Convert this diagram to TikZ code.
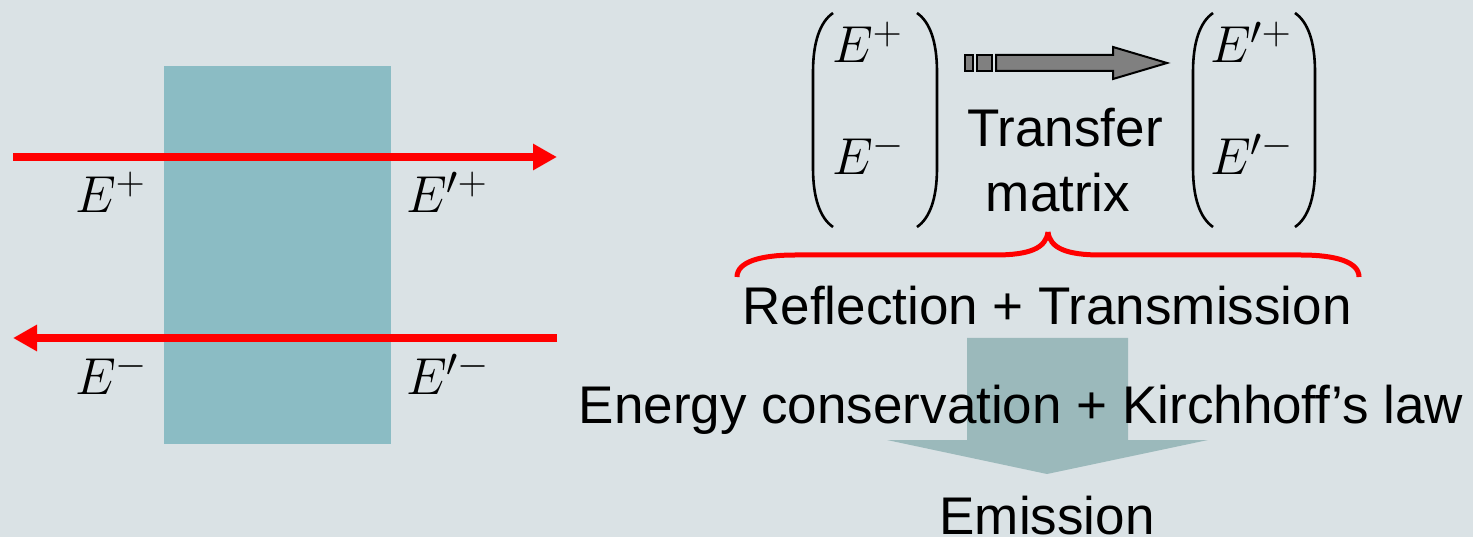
\RequirePackage{fix-cm}
\documentclass[tikz,border=0pt]{standalone}
\usepackage{fontspec}
\newfontfamily\arialf{Liberation Sans}
\usetikzlibrary{arrows.meta}
\DeclareMathSizes{52}{52}{40}{30}
\definecolor{bgc}{HTML}{DAE2E5}
\definecolor{slabc}{HTML}{8BBCC4}
\definecolor{bigarr}{HTML}{9BB9BB}
\definecolor{tgray}{HTML}{808080}
\tikzset{
  redarrow/.style={draw=red, line width=8pt, -{Triangle[length=24pt,width=25pt]}},
  lbl/.style={anchor=base west, inner sep=0pt, font=\fontsize{52}{60}\selectfont},
  stext/.style={anchor=base, inner sep=0pt, font=\arialf\fontsize{53}{60}\selectfont},
  paren/.style={draw=black, line width=2.6pt},
  brace/.style={draw=red, line width=5pt},
  tbox/.style={draw=black, fill=tgray, line width=2pt}
}
\begin{document}
\begin{tikzpicture}[x=1pt,y=-1pt]
\fill[bgc] (0,0) rectangle (1473,537);
\useasboundingbox (0,0) rectangle (1473,537);
% slab
\fill[slabc] (164,66) rectangle (391,444);
% red arrows
\coordinate (t1) at (13,157);
\coordinate (t2) at (557,157);
\coordinate (b1) at (557,338);
\coordinate (b2) at (13,338);
\draw[redarrow] (t1) -- (t2);
\draw[redarrow] (b1) -- (b2);
% labels
\node[lbl] (ep) at (75,213) {$E^+$};
\node[lbl] (epp) at (406,213) {$E'^+$};
\node[lbl] (em) at (75,395) {$E^-$};
\node[lbl] (epm) at (406,395) {$E'^-$};
% left matrix
\draw[paren] (833,13) .. controls (820,22) and (813,42) .. (813,72) -- (813,168) .. controls (813,198) and (820,218) .. (833,227);
\draw[paren] (917,13) .. controls (930,22) and (937,42) .. (937,72) -- (937,168) .. controls (937,198) and (930,218) .. (917,227);
\node[lbl] (m1) at (832,63) {$E^+$};
\node[lbl] (m2) at (832,175) {$E^-$};
% right matrix
\draw[paren] (1213,13) .. controls (1200,22) and (1193,42) .. (1193,72) -- (1193,168) .. controls (1193,198) and (1200,218) .. (1213,227);
\draw[paren] (1295,13) .. controls (1308,22) and (1315,42) .. (1315,72) -- (1315,168) .. controls (1315,198) and (1308,218) .. (1295,227);
\node[lbl] (n1) at (1210,63) {$E'^+$};
\node[lbl] (n2) at (1210,175) {$E'^-$};
% transfer arrow
\draw[tbox] (965,55) rectangle (973,71);
\draw[tbox] (977,55) rectangle (992,71);
\draw[tbox] (996,55) -- (1113,55) -- (1113,47) -- (1167,63) -- (1113,79) -- (1113,71) -- (996,71) -- cycle;
\node[stext] (tr) at (1065,147) {Transfer};
\node[stext] (mx) at (1058,212) {matrix};
% brace
\draw[brace] (737,277) .. controls (737,262) and (760,255) .. (795,255) -- (995,255) .. controls (1030,255) and (1046,248) .. (1048,232);
\draw[brace] (1048,232) .. controls (1050,248) and (1066,255) .. (1101,255) -- (1301,255) .. controls (1336,255) and (1359,262) .. (1359,277);
\node[stext] (rt) at (1047,325) {Reflection + Transmission};
% big arrow
\fill[bigarr] (967,338) -- (1128,338) -- (1128,440) -- (1208,440) -- (1047,474) -- (887,440) -- (967,440) -- cycle;
\node[stext] (ek) at (1021,423) {Energy conservation + Kirchhoff’s law};
\node[stext] (em2) at (1047,534) {Emission};
\end{tikzpicture}
\end{document}
